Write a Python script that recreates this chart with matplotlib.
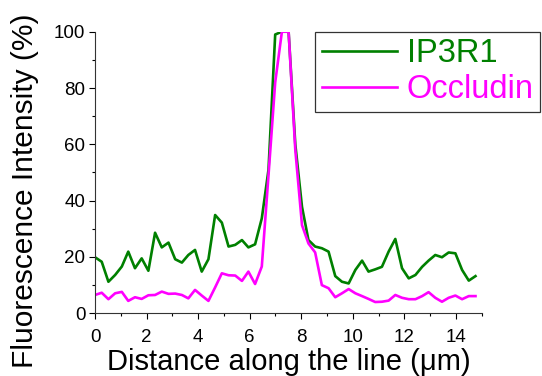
import numpy as np
import matplotlib.pyplot as plt
from matplotlib.ticker import MultipleLocator

plt.rcParams['font.family'] = ['Liberation Sans', 'DejaVu Sans']

# distancia a lo largo de la linea (um), paso ~0.259
distance = [0.00, 0.26, 0.52, 0.78, 1.04, 1.29, 1.55, 1.81, 2.07, 2.33,
            2.59, 2.85, 3.11, 3.37, 3.62, 3.88, 4.14, 4.40, 4.66, 4.92,
            5.18, 5.44, 5.70, 5.95, 6.21, 6.47, 6.73, 6.99, 7.25, 7.51,
            7.77, 8.03, 8.28, 8.54, 8.80, 9.06, 9.32, 9.58, 9.84, 10.10,
            10.36, 10.61, 10.87, 11.13, 11.39, 11.65, 11.91, 12.17, 12.43, 12.69,
            12.94, 13.20, 13.46, 13.72, 13.98, 14.24, 14.50, 14.76]

ip3r1 = [19.9, 18.3, 11.2, 13.6, 16.6, 21.9, 16.0, 19.5, 15.1, 28.6,
         23.4, 25.1, 19.2, 18.0, 20.7, 22.5, 14.8, 19.2, 34.9, 32.2,
         23.7, 24.3, 26.0, 23.4, 24.5, 33.7, 51.0, 99.0, 100.0, 100.0,
         60.0, 37.8, 26.0, 23.7, 23.1, 21.9, 13.2, 11.2, 10.6, 15.4,
         18.7, 14.8, 15.6, 16.5, 21.9, 26.4, 16.0, 12.4, 13.6, 16.5,
         18.7, 20.7, 19.9, 21.6, 21.3, 15.4, 11.6, 13.2]

occludin = [6.5, 7.3, 5.0, 7.1, 7.6, 4.4, 5.7, 5.1, 6.4, 6.5,
            7.7, 6.9, 7.0, 6.5, 5.3, 8.3, 6.3, 4.4, 9.2, 14.2,
            13.5, 13.4, 11.5, 14.8, 10.4, 16.6, 49.0, 82.0, 100.0, 100.0,
            58.0, 31.3, 24.8, 21.6, 10.0, 8.9, 5.7, 7.1, 8.6, 7.1,
            6.1, 5.1, 4.0, 4.1, 4.5, 6.5, 5.5, 5.0, 5.0, 6.1,
            7.5, 5.5, 4.1, 5.5, 6.3, 5.0, 6.1, 6.1]

fig = plt.figure(figsize=(5.42, 3.76), dpi=100)
ax = fig.add_axes([0.1753, 0.1668, 0.7134, 0.7489])

ax.plot(distance, ip3r1, color='#008000', lw=1.9, label='IP3R1')
ax.plot(distance, occludin, color='#ff00ff', lw=1.9, label='Occludin')

ax.set_xlim(0, 15)
ax.set_ylim(0, 100)
ax.xaxis.set_major_locator(MultipleLocator(2))
ax.xaxis.set_minor_locator(MultipleLocator(1))
ax.yaxis.set_major_locator(MultipleLocator(20))
ax.yaxis.set_minor_locator(MultipleLocator(10))
ax.tick_params(which='major', direction='out', length=4, width=0.8, labelsize=13.5)
ax.tick_params(axis='x', which='major', pad=7)
ax.tick_params(axis='y', which='major', pad=3)
ax.tick_params(which='minor', direction='out', length=2, width=0.8)

ax.spines['top'].set_visible(False)
ax.spines['right'].set_visible(False)
for s in ['left', 'bottom']:
    ax.spines[s].set_color('#333333')
    ax.spines[s].set_linewidth(0.8)

ax.set_xlabel('Distance along the line (\u03bcm)', fontsize=21)
ax.set_ylabel('Fluorescence Intensity (%)', fontsize=21.5)
ax.xaxis.set_label_coords(0.5, -0.122)
ax.yaxis.set_label_coords(-0.145, 0.435)

leg = ax.legend(loc='upper left', bbox_to_anchor=(0.57, 1.0), fontsize=23.5,
                frameon=True, fancybox=False, handlelength=2.3,
                borderpad=0.2, labelspacing=0.15, handletextpad=0.3,
                borderaxespad=0)
leg.get_frame().set_edgecolor('black')
leg.get_frame().set_linewidth(0.9)
for txt, line in zip(leg.get_texts(), leg.get_lines()):
    txt.set_color(line.get_color())

plt.savefig('out.png', dpi=100)
